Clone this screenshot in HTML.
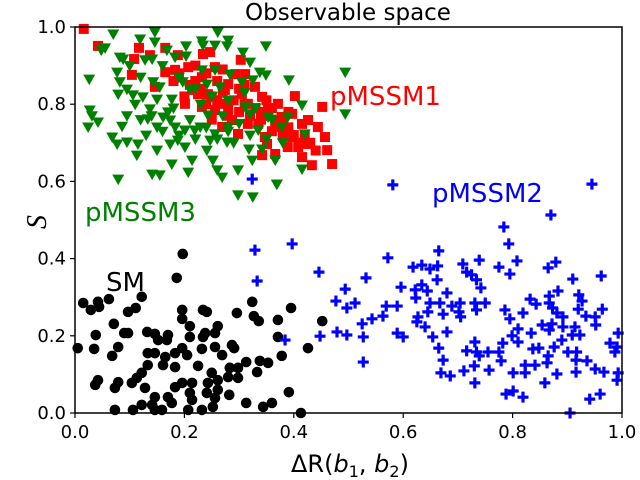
<!DOCTYPE html>
<html><head><meta charset="utf-8"><style>
body{margin:0;background:#fff;}
svg{display:block;font-family:"DejaVu Sans","Liberation Sans",sans-serif;}
</style></head><body>
<svg id="chart" width="640" height="480">
<g id="marks"></g>
<rect x="75" y="27" width="547" height="386" fill="none" stroke="#000" stroke-width="1.5"/>
<g id="axes"></g>
<text x="348" y="20" font-size="23" text-anchor="middle">Observable space</text>
<text x="330" y="105" font-size="26" fill="#ff0000">pMSSM1</text>
<text x="432" y="202" font-size="26" fill="#0000ff">pMSSM2</text>
<text x="85" y="221" font-size="26" fill="#008000">pMSSM3</text>
<text x="106" y="291" font-size="26" fill="#000">SM</text>
<text x="350" y="472" font-size="24" text-anchor="middle">ΔR(<tspan font-style="italic">b</tspan><tspan font-size="16" dy="5">1</tspan><tspan dy="-5">, </tspan><tspan font-style="italic">b</tspan><tspan font-size="16" dy="5">2</tspan><tspan dy="-5">)</tspan></text>
<text transform="translate(46,222) rotate(-90)" font-size="28" font-style="italic" text-anchor="middle" font-family="Liberation Serif,serif">S</text>
</svg>
<script>
const xTicks=[0,0.2,0.4,0.6,0.8,1.0];
const xTickLabels=["0.0","0.2","0.4","0.6","0.8","1.0"];
const yTicks=[0,0.2,0.4,0.6,0.8,1.0];
const yTickLabels=["0.0","0.2","0.4","0.6","0.8","1.0"];
const smX=[0.197,0.186,0.015,0.029,0.042,0.044,0.062,0.097,0.111,0.122,0.071,0.038,0.005,0.035,0.079,0.068,0.090,0.097,0.132,0.146,0.152,0.170,0.168,0.196,0.196,0.210,0.210,0.234,0.241,0.261,0.256,0.238,0.234,0.232,0.196,0.183,0.205,0.146,0.133,0.165,0.161,0.133,0.183,0.225,0.256,0.269,0.287,0.291,0.296,0.324,0.327,0.336,0.371,0.395,0.371,0.378,0.452,0.426,0.313,0.338,0.353,0.298,0.283,0.333,0.298,0.280,0.261,0.250,0.243,0.241,0.261,0.256,0.282,0.214,0.210,0.214,0.196,0.183,0.170,0.177,0.146,0.141,0.122,0.128,0.113,0.122,0.104,0.079,0.073,0.037,0.042,0.073,0.106,0.146,0.232,0.252,0.313,0.344,0.360,0.391,0.413,0.207,0.159];
const smY=[0.412,0.350,0.285,0.267,0.288,0.275,0.295,0.262,0.272,0.301,0.231,0.202,0.168,0.166,0.171,0.148,0.207,0.207,0.210,0.205,0.189,0.202,0.189,0.267,0.244,0.225,0.197,0.267,0.262,0.225,0.207,0.207,0.197,0.166,0.168,0.155,0.150,0.155,0.155,0.145,0.124,0.124,0.119,0.122,0.171,0.150,0.176,0.168,0.259,0.288,0.251,0.238,0.241,0.272,0.197,0.148,0.238,0.168,0.132,0.135,0.130,0.117,0.117,0.106,0.091,0.093,0.085,0.104,0.078,0.052,0.060,0.039,0.047,0.078,0.052,0.034,0.078,0.067,0.041,0.026,0.041,0.021,0.021,0.065,0.091,0.104,0.078,0.080,0.065,0.073,0.085,0.008,0.008,0.008,0.008,0.016,0.026,0.016,0.026,0.054,0.000,0.008,0.008];
const p2X=[0.581,0.945,0.870,0.784,0.793,0.397,0.572,0.446,0.532,0.494,0.477,0.497,0.512,0.448,0.479,0.497,0.525,0.543,0.563,0.569,0.589,0.527,0.527,0.596,0.589,0.600,0.618,0.634,0.649,0.663,0.665,0.662,0.634,0.622,0.644,0.623,0.649,0.667,0.680,0.627,0.645,0.625,0.640,0.654,0.665,0.673,0.669,0.686,0.680,0.673,0.689,0.704,0.702,0.705,0.709,0.716,0.725,0.734,0.739,0.742,0.731,0.734,0.750,0.716,0.731,0.734,0.739,0.711,0.730,0.731,0.757,0.755,0.775,0.775,0.795,0.808,0.786,0.795,0.810,0.799,0.810,0.782,0.779,0.801,0.823,0.823,0.788,0.801,0.819,0.819,0.832,0.843,0.834,0.837,0.841,0.848,0.854,0.865,0.879,0.867,0.873,0.867,0.883,0.881,0.892,0.872,0.867,0.892,0.876,0.865,0.863,0.881,0.859,0.890,0.905,0.910,0.914,0.909,0.923,0.901,0.917,0.916,0.916,0.921,0.927,0.920,0.934,0.936,0.941,0.960,0.951,0.952,0.962,0.964,0.951,0.967,0.978,0.991,0.993,0.987,0.993,0.991,0.384,0.329,0.333,0.324];
const p2Y=[0.591,0.593,0.513,0.482,0.438,0.438,0.402,0.365,0.350,0.321,0.290,0.272,0.285,0.199,0.210,0.202,0.231,0.244,0.251,0.277,0.277,0.197,0.132,0.326,0.207,0.197,0.378,0.383,0.373,0.381,0.420,0.345,0.332,0.319,0.316,0.298,0.285,0.285,0.311,0.249,0.262,0.236,0.223,0.197,0.168,0.137,0.104,0.096,0.210,0.256,0.277,0.285,0.262,0.249,0.386,0.365,0.358,0.345,0.396,0.324,0.285,0.267,0.285,0.161,0.184,0.158,0.148,0.109,0.122,0.078,0.111,0.158,0.158,0.378,0.360,0.394,0.267,0.244,0.218,0.200,0.184,0.181,0.135,0.104,0.124,0.104,0.049,0.057,0.041,0.259,0.295,0.282,0.207,0.166,0.124,0.168,0.228,0.376,0.391,0.303,0.272,0.285,0.316,0.259,0.249,0.231,0.215,0.223,0.171,0.148,0.130,0.101,0.078,0.189,0.000,0.347,0.223,0.202,0.202,0.158,0.158,0.137,0.106,0.306,0.290,0.269,0.251,0.135,0.036,0.049,0.249,0.228,0.355,0.269,0.114,0.106,0.181,0.171,0.207,0.158,0.104,0.085,0.189,0.422,0.342,0.606];
const p1X=[0.016,0.042,0.117,0.108,0.137,0.165,0.188,0.234,0.247,0.303,0.104,0.146,0.165,0.183,0.207,0.214,0.201,0.232,0.243,0.256,0.269,0.280,0.293,0.311,0.305,0.316,0.329,0.342,0.353,0.371,0.269,0.287,0.298,0.335,0.347,0.366,0.378,0.397,0.415,0.426,0.444,0.452,0.402,0.397,0.389,0.408,0.426,0.457,0.461,0.470,0.433,0.415,0.342,0.351,0.256,0.232,0.366,0.316,0.225,0.274,0.22,0.26,0.30,0.34,0.38,0.41,0.28,0.36,0.24,0.19,0.21,0.23,0.25,0.27,0.29,0.31,0.33,0.35,0.37,0.39,0.20,0.24,0.28,0.32,0.36,0.40,0.43,0.18,0.22,0.26,0.30,0.34,0.38,0.42,0.44,0.27,0.31,0.35,0.39,0.25];
const p1Y=[0.995,0.951,0.946,0.917,0.927,0.946,0.927,0.930,0.935,0.915,0.876,0.845,0.883,0.889,0.896,0.837,0.801,0.870,0.826,0.896,0.801,0.852,0.878,0.878,0.826,0.801,0.845,0.819,0.785,0.801,0.741,0.759,0.723,0.749,0.715,0.741,0.767,0.775,0.749,0.759,0.741,0.793,0.821,0.715,0.689,0.689,0.697,0.715,0.681,0.645,0.642,0.663,0.668,0.697,0.785,0.793,0.671,0.749,0.826,0.837,0.86,0.81,0.78,0.76,0.72,0.70,0.79,0.79,0.88,0.88,0.85,0.84,0.82,0.83,0.81,0.80,0.79,0.77,0.76,0.74,0.82,0.80,0.77,0.77,0.73,0.72,0.70,0.86,0.90,0.86,0.84,0.78,0.75,0.72,0.68,0.89,0.85,0.81,0.78,0.76];
const p3X=[0.070,0.146,0.119,0.146,0.055,0.048,0.082,0.088,0.128,0.141,0.168,0.183,0.203,0.203,0.232,0.234,0.261,0.256,0.280,0.278,0.307,0.320,0.349,0.026,0.077,0.082,0.079,0.095,0.106,0.124,0.143,0.155,0.150,0.177,0.197,0.210,0.232,0.241,0.256,0.265,0.283,0.305,0.325,0.338,0.349,0.391,0.027,0.031,0.042,0.024,0.095,0.086,0.068,0.077,0.095,0.115,0.113,0.137,0.133,0.161,0.150,0.174,0.183,0.201,0.188,0.174,0.150,0.201,0.219,0.243,0.229,0.247,0.241,0.256,0.280,0.278,0.311,0.320,0.335,0.353,0.378,0.389,0.415,0.420,0.318,0.342,0.366,0.324,0.252,0.214,0.177,0.141,0.155,0.079,0.207,0.260,0.269,0.298,0.369,0.298,0.325,0.415,0.494,0.494,0.369,0.10,0.12,0.16,0.19,0.22,0.25,0.28,0.31,0.11,0.14,0.17,0.21,0.24,0.27,0.30,0.33,0.36,0.13,0.16,0.19,0.22,0.26,0.29,0.32,0.35,0.38,0.12,0.18,0.23,0.28];
const p3Y=[0.982,0.987,0.969,0.961,0.946,0.940,0.922,0.917,0.915,0.917,0.940,0.922,0.951,0.925,0.964,0.953,0.987,0.953,0.966,0.951,0.935,0.909,0.951,0.865,0.883,0.858,0.826,0.839,0.824,0.819,0.858,0.845,0.813,0.813,0.858,0.839,0.889,0.852,0.889,0.845,0.878,0.858,0.863,0.883,0.876,0.863,0.785,0.770,0.754,0.741,0.770,0.743,0.715,0.697,0.702,0.697,0.668,0.788,0.762,0.767,0.741,0.759,0.741,0.733,0.707,0.697,0.681,0.689,0.733,0.772,0.741,0.707,0.681,0.723,0.741,0.702,0.793,0.775,0.733,0.767,0.741,0.767,0.798,0.723,0.684,0.684,0.655,0.655,0.655,0.655,0.645,0.619,0.617,0.606,0.624,0.630,0.611,0.630,0.593,0.565,0.560,0.632,0.883,0.775,0.593,0.90,0.87,0.90,0.87,0.84,0.82,0.81,0.83,0.80,0.77,0.78,0.76,0.74,0.77,0.75,0.79,0.76,0.72,0.73,0.72,0.71,0.71,0.70,0.72,0.71,0.70,0.76,0.79,0.80,0.73];

const NS="http://www.w3.org/2000/svg";
const X0=75,X1=622,Y0=413,Y1=27;
function sx(v){return X0+v*(X1-X0);}
function sy(v){return Y0-v*(Y0-Y1);}
const marks=document.getElementById('marks');
const axes=document.getElementById('axes');
function mk(tag,attrs,parent){const e=document.createElementNS(NS,tag);for(const k in attrs)e.setAttribute(k,attrs[k]);parent.appendChild(e);return e;}

xTicks.forEach((t,i)=>{
  const l=mk('line',{x1:sx(t),x2:sx(t),y1:Y0,y2:Y0+5,stroke:'#000','stroke-width':1.2},axes);
  
  
  const tx=mk('text',{x:sx(t),y:Y0+25,'font-size':18,'text-anchor':'middle'},axes);
  tx.textContent=xTickLabels[i];
  
  
});
yTicks.forEach((t,i)=>{
  const l=mk('line',{x1:X0-5,x2:X0,y1:sy(t),y2:sy(t),stroke:'#000','stroke-width':1.2},axes);
  
  
  const tx=mk('text',{x:X0-9,y:sy(t)+6,'font-size':18,'text-anchor':'end'},axes);
  tx.textContent=yTickLabels[i];
  
  
});

smX.forEach((v,i)=>{
  const e=mk('circle',{cx:sx(v),cy:sy(smY[i]),r:5.3,fill:'#000'},marks);
  
  
});
p2X.forEach((v,i)=>{
  const x=sx(v),y=sy(p2Y[i]);
  const e=mk('path',{d:`M${x-5.5},${y}H${x+5.5}M${x},${y-5.5}V${y+5.5}`,stroke:'#0000ff','stroke-width':3.2,fill:'none'},marks);
  
  
});
p1X.forEach((v,i)=>{
  const e=mk('rect',{x:sx(v)-5,y:sy(p1Y[i])-5,width:10,height:10,fill:'#ff0000'},marks);
  
  
});
p3X.forEach((v,i)=>{
  const x=sx(v),y=sy(p3Y[i]);
  const e=mk('polygon',{points:`${x-6},${y-4.5} ${x+6},${y-4.5} ${x},${y+6}`,fill:'#008000'},marks);
  
  
});
</script>
</body></html>
